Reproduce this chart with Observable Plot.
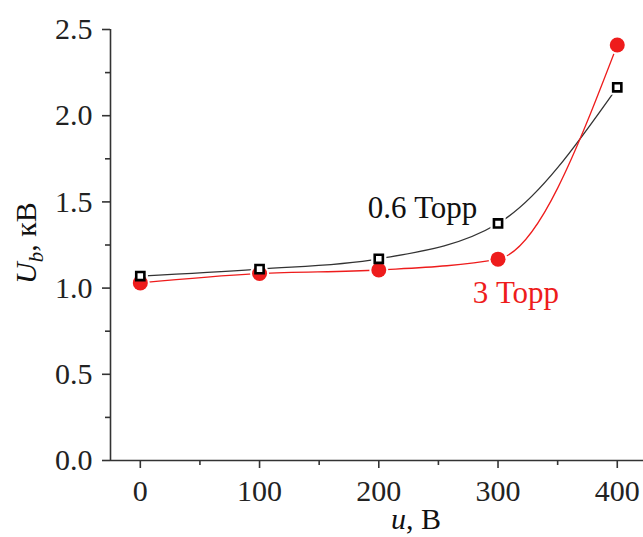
<!DOCTYPE html>
<html>
<head>
<meta charset="utf-8">
<script src="https://cdn.jsdelivr.net/npm/d3@7"></script>
<script src="https://cdn.jsdelivr.net/npm/@observablehq/plot@0.6"></script>
<style>
  html, body { margin: 0; padding: 0; background: white; }
  #chart { width: 643px; height: 537px; overflow: hidden; }
  #chart svg text { font-family: 'Liberation Serif', 'Times New Roman', serif; }
</style>
</head>
<body>
<div id="chart"></div>
<script>
// Data
const voltage = [0, 100, 200, 300, 400];            // u, В
const ub06 = [1.07, 1.11, 1.17, 1.375, 2.165];      // 0.6 Торр, кВ
const ub3  = [1.03, 1.085, 1.105, 1.168, 2.41];     // 3 Торр, кВ
const xTicks = [0, 100, 200, 300, 400];
const xMinor = [50, 150, 250, 350];
const yTicks = [0, 0.5, 1.0, 1.5, 2.0, 2.5];
const yMinor = [0.25, 0.75, 1.25, 1.75, 2.25];
const seriesLabels = ["0.6 Торр", "3 Торр"];

const s06 = voltage.map((u, i) => ({u, v: ub06[i]}));
const s3 = voltage.map((u, i) => ({u, v: ub3[i]}));

const axisColor = "#333";
const red = "#ee1c1c";
const font = "'Liberation Serif', 'Times New Roman', serif";

const chart = Plot.plot({
  width: 643,
  height: 537,
  marginLeft: 110,
  marginRight: 0,
  marginTop: 29,
  marginBottom: 77,
  x: {domain: [-25, 422]},
  y: {domain: [0, 2.5]},
  style: {fontFamily: font, fontSize: "30px", color: "#222", background: "white"},
  marks: [
    Plot.ruleX([-25], {stroke: axisColor, strokeWidth: 1.6}),
    Plot.ruleY([0], {stroke: axisColor, strokeWidth: 1.6}),
    Plot.axisY({ticks: yTicks, tickSize: 8, tickPadding: 10, stroke: axisColor, strokeWidth: 1.6,
      tickFormat: d => d.toFixed(1), label: null, fontSize: 30}),
    Plot.axisY({ticks: yMinor, tickSize: 5, stroke: axisColor, strokeWidth: 1.6, text: null, label: null}),
    Plot.axisX({ticks: xTicks, tickSize: 8, tickPadding: 11, stroke: axisColor, strokeWidth: 1.6,
      tickFormat: d => String(d), label: null, fontSize: 30}),
    Plot.axisX({ticks: xMinor, tickSize: 5, stroke: axisColor, strokeWidth: 1.6, text: null, label: null}),
    Plot.line(s06, {x: "u", y: "v", curve: "monotone-x", stroke: "#333", strokeWidth: 1.3}),
    Plot.line(s3, {x: "u", y: "v", curve: "monotone-x", stroke: red, strokeWidth: 1.3}),
    // white halos around markers
    Plot.dot(s06, {x: "u", y: "v", symbol: "square", r: 5.2, fill: "white", stroke: "white", strokeWidth: 6}),
    Plot.dot(s3, {x: "u", y: "v", r: 8.5, fill: "white", stroke: "white", strokeWidth: 2}),
    Plot.dot(s3, {x: "u", y: "v", r: 7.5, fill: red, stroke: "none"}),
    Plot.dot(s06, {x: "u", y: "v", symbol: "square", r: 4.6, fill: "white", stroke: "black", strokeWidth: 2.6}),
    Plot.text([seriesLabels[0]], {x: 236.7, y: 1.467, text: d => d, fill: "#111", fontSize: 31, textAnchor: "middle"}),
    Plot.text([seriesLabels[1]], {x: 315, y: 0.974, text: d => d, fill: red, fontSize: 31, textAnchor: "middle"})
  ]
});

document.getElementById("chart").appendChild(chart);

// Axis titles with italic symbols
const svg = d3.select(chart);
const yt = svg.append("text")
  .attr("transform", "translate(36,243) rotate(-90)")
  .attr("text-anchor", "middle")
  .attr("font-family", font)
  .attr("font-size", 30)
  .attr("fill", "#111");
yt.append("tspan").attr("font-style", "italic").text("U");
yt.append("tspan").attr("font-style", "italic").attr("font-size", 21).attr("dy", 7).text("b");
yt.append("tspan").attr("dy", -7).text(", кВ");

const xt = svg.append("text")
  .attr("x", 416).attr("y", 529)
  .attr("text-anchor", "middle")
  .attr("font-family", font)
  .attr("font-size", 30)
  .attr("fill", "#111");
xt.append("tspan").attr("font-style", "italic").text("u");
xt.append("tspan").text(", В");
</script>
</body>
</html>
